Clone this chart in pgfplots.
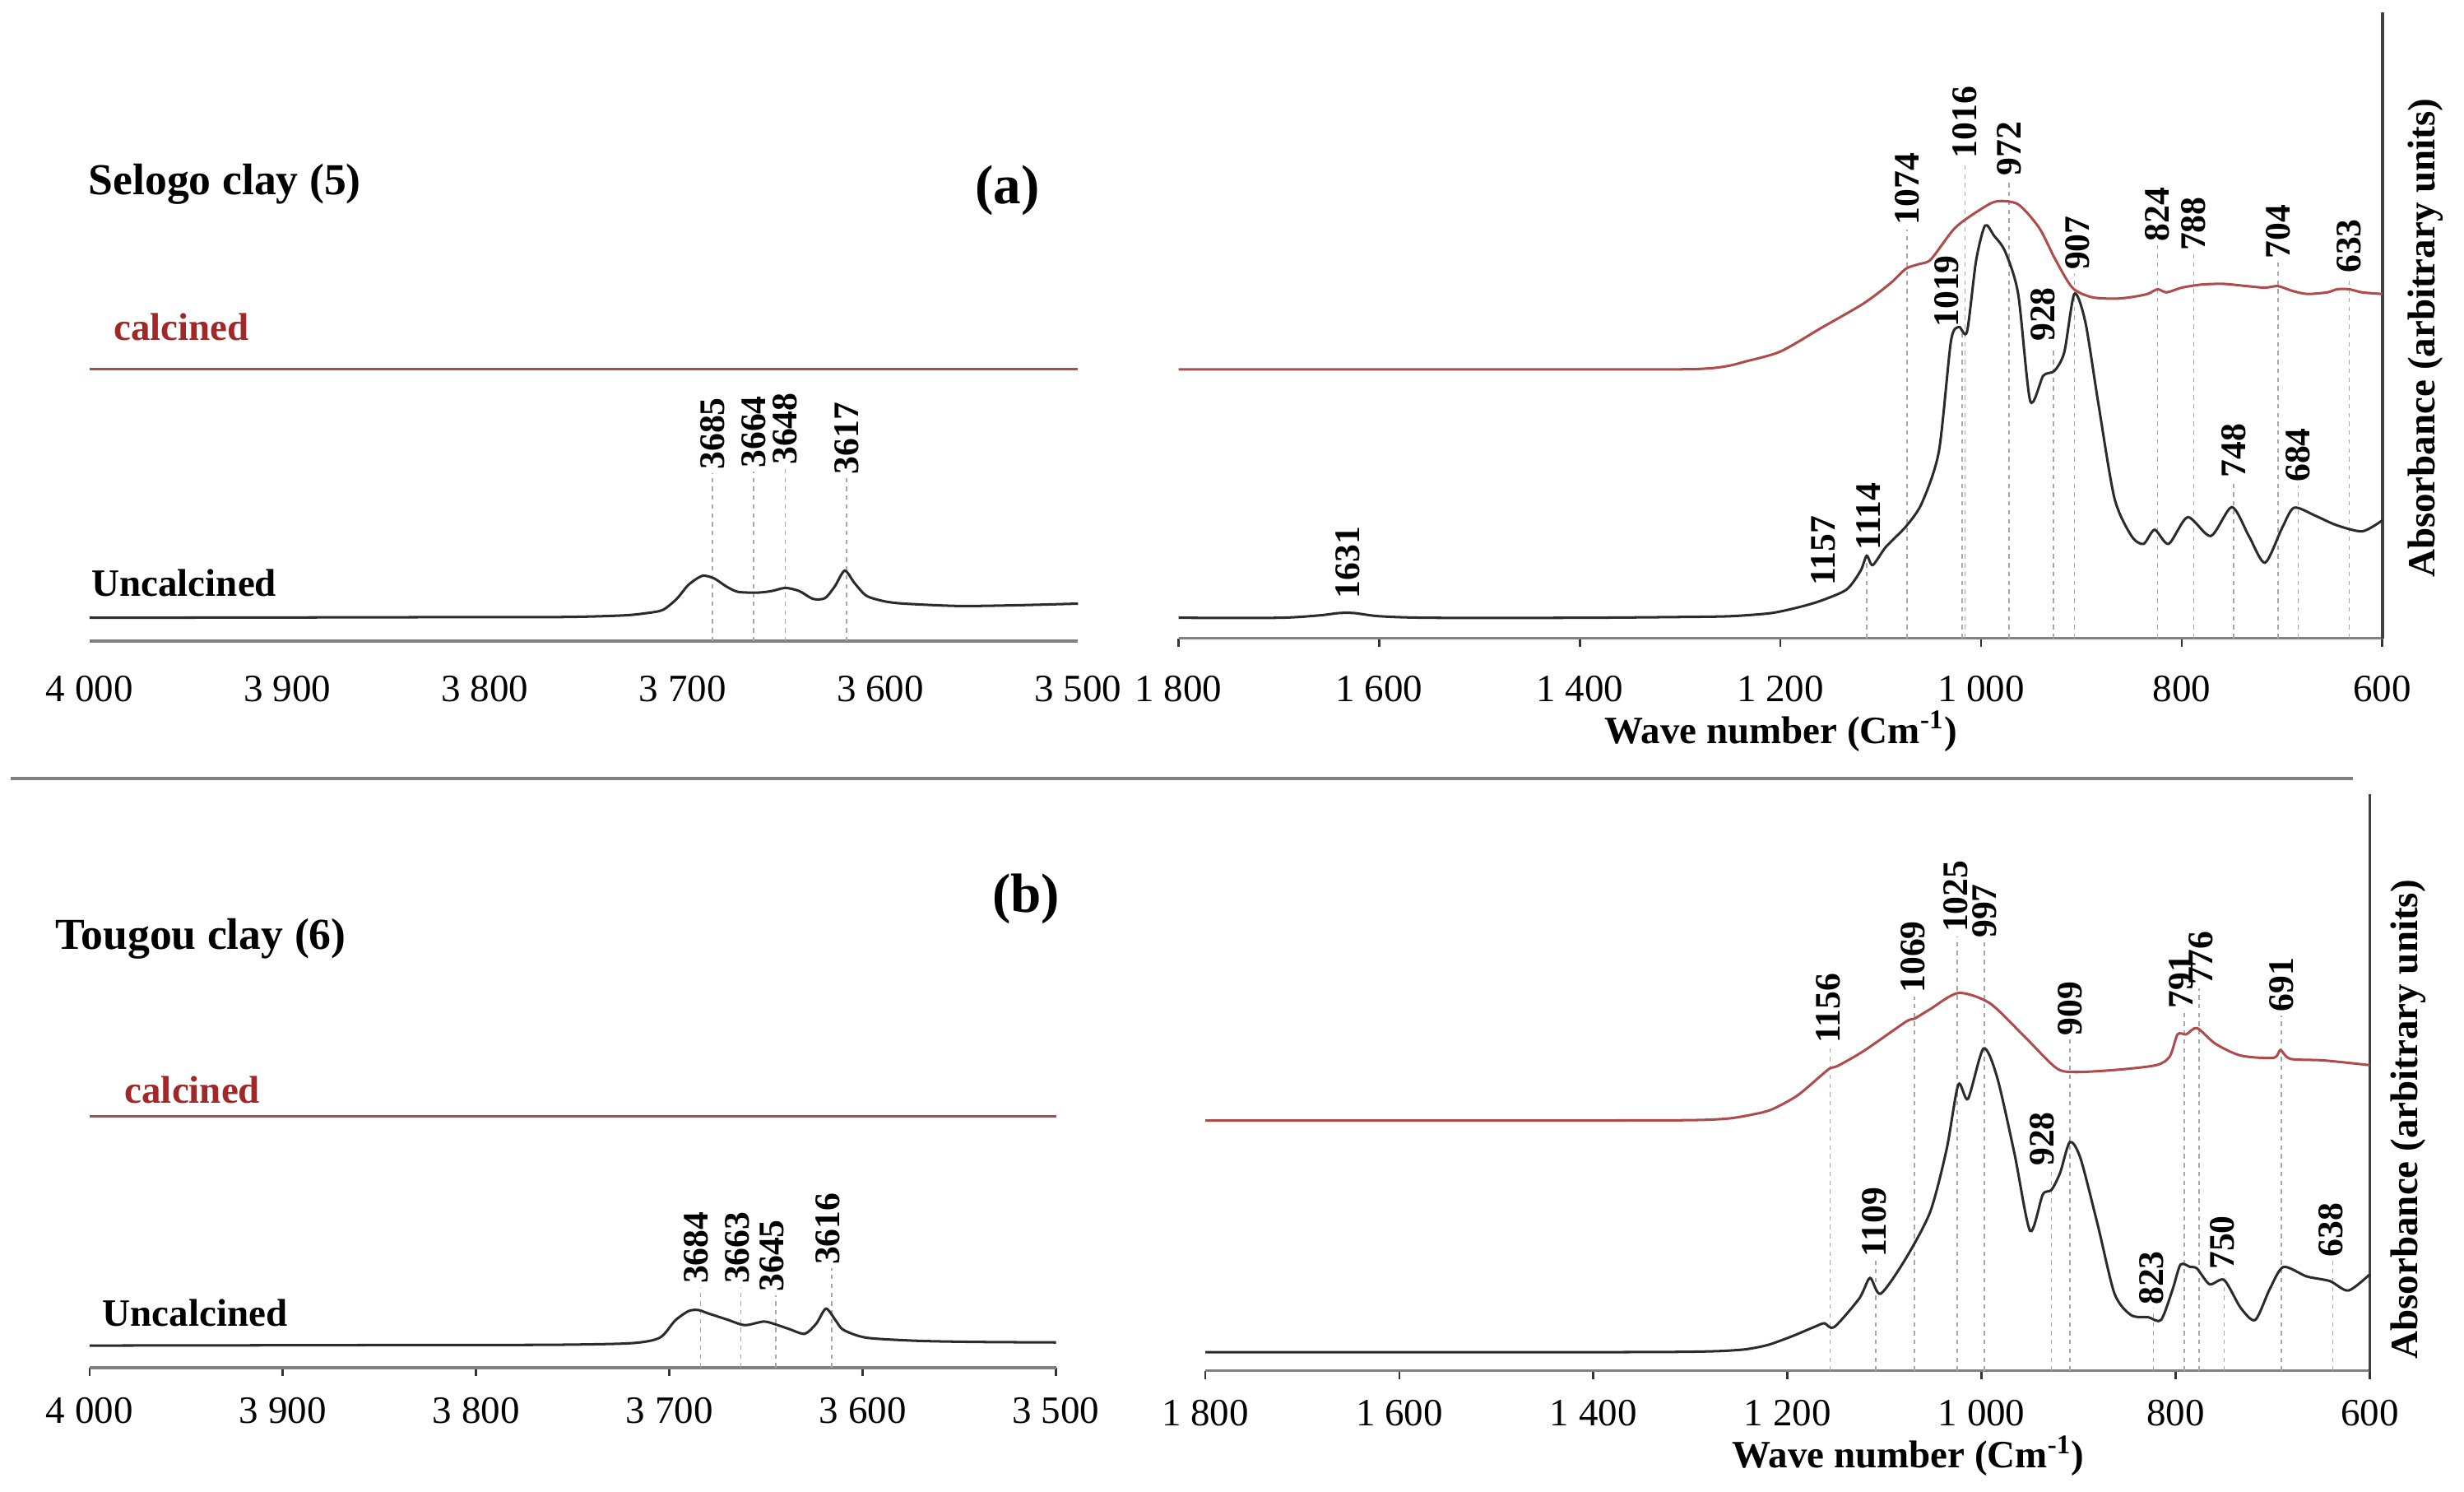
\documentclass[border=0pt]{standalone}
\usepackage{pgfplots}
\pgfplotsset{compat=1.18}
\usepackage{fontspec}
\setmainfont{Liberation Serif}

\definecolor{curveblack}{HTML}{2B2B2B}
\definecolor{curvered}{RGB}{175,75,75}
\definecolor{textred}{RGB}{160,40,40}
\definecolor{axisgray}{HTML}{808080}
\definecolor{guidegray}{HTML}{A8A8A8}

\tikzset{
  plab/.style={rotate=90, anchor=west, inner sep=0pt, font=\bfseries\fontsize{13}{13}\selectfont},
}
\pgfplotsset{
  spec/.style={
    scale only axis, anchor=south west, enlargelimits=false, clip=false,
    ymin=0, x dir=reverse, axis x line*=bottom, ytick=\empty,
    tick align=outside, major tick length=0.11cm,
    x axis line style={draw=axisgray, line width=1.1pt, -},
    xtick style={draw=black!80, line width=0.8pt},
    x tick label style={font=\fontsize{14}{14}\selectfont},
    /pgf/number format/1000 sep={\ },
    /pgf/number format/assume math mode=true,
  },
  leftspec/.style={spec, axis y line=none, xmin=3500, xmax=4000, xtick={3500,3600,...,4000}},
  rightspec/.style={spec, axis y line*=right, xmin=600, xmax=1800, xtick={600,800,...,1800},
    y axis line style={draw=black!75, line width=1.1pt, -}},
  blk/.style={curveblack, line width=0.9pt, smooth, tension=0.45},
  calc/.style={curvered, line width=0.9pt, smooth, tension=0.45},
  guide/.style={ycomb, guidegray, line width=0.45pt, dash pattern=on 1.6pt off 1.6pt, no marks},
}

% ---- (a) Selogo clay ----
\pgfplotstableread{
w y
4000 15
3900 15.2
3820 15.4
3760 15.5
3730 16.5
3718 18
3710 20
3703 27
3697 36
3690 41.7
3684 40
3678 35
3672 31.5
3662 31
3655 32
3648 34
3641 32
3634 27
3628 27.5
3623 35
3618 45
3613 37
3607 29
3598 25.5
3588 24
3560 22.5
3530 23
3500 24
}\selogoOH

\pgfplotstableread{
w y
4000 173
3500 173
}\selogoOHcal

\pgfplotstableread{
w y
1800 13
1700 13
1660 14.5
1640 16
1625 16
1600 14
1550 13
1400 13
1300 13.5
1250 14
1209 16
1180 20
1159 24
1134 31
1120 43
1114 52.5
1108 46.5
1095 58
1075 71
1059 86
1042 119
1030 189
1022 198
1014 195
1005 240
996 262.5
987 256
976 246
963 219
951 151
938 167
927 170
917 182
907 219
896 201
883 149
867 89
850 65
838 60
827 69
813 60
794 77
771 65
750 83.4
733 65
717 48
700 70
688 83
667 78
646 72
620 68
600 75
}\selogoFP

\pgfplotstableread{
w y
1800 171
1650 171
1500 171
1400 171
1320 171
1285 171.2
1265 172
1250 173.5
1235 176
1200 182.4
1159 197.5
1117 213
1090 226
1075 235
1062 238
1050 241
1026 261
1000 273
984 278
963 276
942 261
926 241
909 223
890 217
867 216
850 217
834 219
824 222
815 220
800 223
780 225
758 225.4
735 224
717 223
704 224
690 221
675 219
655 220
645 222
633 222
620 220
600 219
}\selogoFPcal

% ---- (b) Tougou clay ----
\pgfplotstableread{
w y
4000 14
3900 14.2
3820 14.4
3760 14.5
3720 15.5
3705 19
3697 30
3690 36
3685 36.6
3680 34.5
3670 30.5
3661 27
3651 29.3
3644 27
3638 24.5
3630 21.5
3624 28
3619 37.5
3614 30
3610 24
3598 19
3571 17
3540 16.3
3500 16
}\tougouOH

\pgfplotstableread{
w y
4000 160
3500 160
}\tougouOHcal

\pgfplotstableread{
w y
1800 11.8
1650 11.8
1500 11.8
1400 11.8
1310 12
1270 12.5
1245 13.5
1230 15
1217 17
1195 22
1173 27.7
1162 30.2
1152 27.7
1126 46
1115 59
1104 49
1079 70.5
1053 101
1036 141
1024 182
1014 173
998 205
984 186.7
966 137.8
950 89
937 112
928 115
919 126
909 145.5
898 135
880 92
863 49
846 35.4
828 34
815 32.3
803 52
795 67.5
785 66
778 65
765 55
750 57.7
733 40
718 32.3
703 52
689 66
665 60
641 57
622 51
600 61.3
}\tougouFP

\pgfplotstableread{
w y
1800 159.2
1650 159.2
1500 159.2
1400 159.2
1320 159.3
1285 159.6
1260 160.5
1240 162.5
1217 166
1190 175
1165 188
1156 192.5
1148 194
1121 203.6
1078 222
1069 224
1053 230
1024 240.3
992 234
958 214
924 193
906 190
863 191.3
820 194.4
806 200
798 214
789 214
778 218
759 208
733 200.5
699 199
692 204
682 198.4
647 197.4
600 194.4
}\tougouFPcal

\begin{document}
\begin{tikzpicture}
\useasboundingbox (0,0) rectangle (31.36,-18.98);

% top left: OH region
\begin{axis}[leftspec, at={(1.14cm,-8.16cm)}, width=12.58cm, height=7.76cm, ymax=388,
  major tick length=0pt, x tick label style={yshift=-0.31cm}]
\addplot[guide] table[row sep=\\] {x y\\ 3685 107\\ 3664 108\\ 3648 110\\ 3617 104\\};
\addplot[calc] table {\selogoOHcal};
\addplot[blk] table {\selogoOH};
\node[plab] at (axis cs:3685,109) {3685};
\node[plab] at (axis cs:3664,110) {3664};
\node[plab] at (axis cs:3648,112) {3648};
\node[plab] at (axis cs:3617,106) {3617};
\end{axis}

% top right: fingerprint region
\begin{axis}[rightspec, at={(15.0cm,-8.12cm)}, width=15.32cm, height=7.96cm, ymax=398,
  x tick label style={yshift=-0.24cm}]
\addplot[guide] table[row sep=\\] {x y\\ 1114 52\\ 1074 260\\ 1016 303\\ 1019 195\\ 972 292\\
  928 185\\ 907 232\\ 824 250\\ 788 244\\ 748 100\\ 704 239\\ 684 97\\ 633 230\\};
\addplot[calc] table {\selogoFPcal};
\addplot[blk] table {\selogoFP};
\node[plab] at (axis cs:1631,25) {1631};
\node[plab] at (axis cs:1157,33) {1157};
\node[plab] at (axis cs:1112,55.5) {1114};
\node[plab] at (axis cs:1074,262.5) {1074};
\node[plab] at (axis cs:1016,305) {1016};
\node[plab] at (axis cs:972,294) {972};
\node[plab] at (axis cs:1034,197.5) {1019};
\node[plab] at (axis cs:938,188.5) {928};
\node[plab] at (axis cs:904,234) {907};
\node[plab] at (axis cs:824,252) {824};
\node[plab] at (axis cs:788,246) {788};
\node[plab] at (axis cs:704,241) {704};
\node[plab] at (axis cs:633,232) {633};
\node[plab] at (axis cs:748,102) {748};
\node[plab] at (axis cs:684,99) {684};
\end{axis}

% bottom left: OH region
\begin{axis}[leftspec, at={(1.14cm,-17.40cm)}, width=12.30cm, height=7.40cm, ymax=370,
  x tick label style={yshift=-0.15cm}]
\addplot[guide] table[row sep=\\] {x y\\ 3684 51\\ 3663 51\\ 3645 46\\ 3616 63\\};
\addplot[calc] table {\tougouOHcal};
\addplot[blk] table {\tougouOH};
\node[plab] at (axis cs:3686,53) {3684};
\node[plab] at (axis cs:3665,53) {3663};
\node[plab] at (axis cs:3647,48) {3645};
\node[plab] at (axis cs:3618,65) {3616};
\end{axis}

% bottom right: fingerprint region
\begin{axis}[rightspec, at={(15.34cm,-17.44cm)}, width=14.82cm, height=7.34cm, ymax=367,
  x tick label style={yshift=-0.14cm}]
\addplot[guide] table[row sep=\\] {x y\\ 1156 206\\ 1109 70\\ 1069 238\\ 1025 276\\ 997 273\\
  928 128\\ 909 211\\ 823 40\\ 791 228\\ 776 243\\ 750 62\\ 691 226\\ 638 70\\};
\addplot[calc] table {\tougouFPcal};
\addplot[blk] table {\tougouFP};
\node[plab] at (axis cs:1158,208) {1156};
\node[plab] at (axis cs:1111,72) {1109};
\node[plab] at (axis cs:1071,240) {1069};
\node[plab] at (axis cs:1027,278.5) {1025};
\node[plab] at (axis cs:997,275) {997};
\node[plab] at (axis cs:938,130) {928};
\node[plab] at (axis cs:909,213) {909};
\node[plab] at (axis cs:825,41.5) {823};
\node[plab] at (axis cs:794,230) {791};
\node[plab] at (axis cs:774,245) {776};
\node[plab] at (axis cs:752,64) {750};
\node[plab] at (axis cs:691,228) {691};
\node[plab] at (axis cs:640,72) {638};
\end{axis}

% titles, labels, separator
\begin{scope}[x=0.02cm, y=-0.02cm]
\draw[axisgray, line width=1.1pt] (7,495) -- (1497,495);
\tikzset{ttl/.style={anchor=west, inner sep=0pt, font=\bfseries\fontsize{16}{16}\selectfont},
         big/.style={anchor=west, inner sep=0pt, font=\bfseries\fontsize{20}{20}\selectfont},
         txt/.style={anchor=west, inner sep=0pt, font=\bfseries\fontsize{14}{14}\selectfont},
         axl/.style={inner sep=0pt, font=\bfseries\fontsize{14}{14}\selectfont}}
\node[ttl] at (56,117) {Selogo clay (5)};
\node[big] at (620,121) {(a)};
\node[txt, text=textred] at (72,208) {calcined};
\node[txt] at (58,371) {Uncalcined};
\node[ttl] at (35,597) {Tougou clay (6)};
\node[big] at (631,572) {(b)};
\node[txt, text=textred] at (79,693) {calcined};
\node[txt] at (65,835) {Uncalcined};
\node[axl] at (1133,465) {Wave number (Cm\textsuperscript{-1})};
\node[axl] at (1214,926) {Wave number (Cm\textsuperscript{-1})};
\node[axl, rotate=90] at (1543,215) {Absorbance (arbitrary units)};
\node[axl, rotate=90] at (1532,712) {Absorbance (arbitrary units)};
\end{scope}
\end{tikzpicture}
\end{document}
